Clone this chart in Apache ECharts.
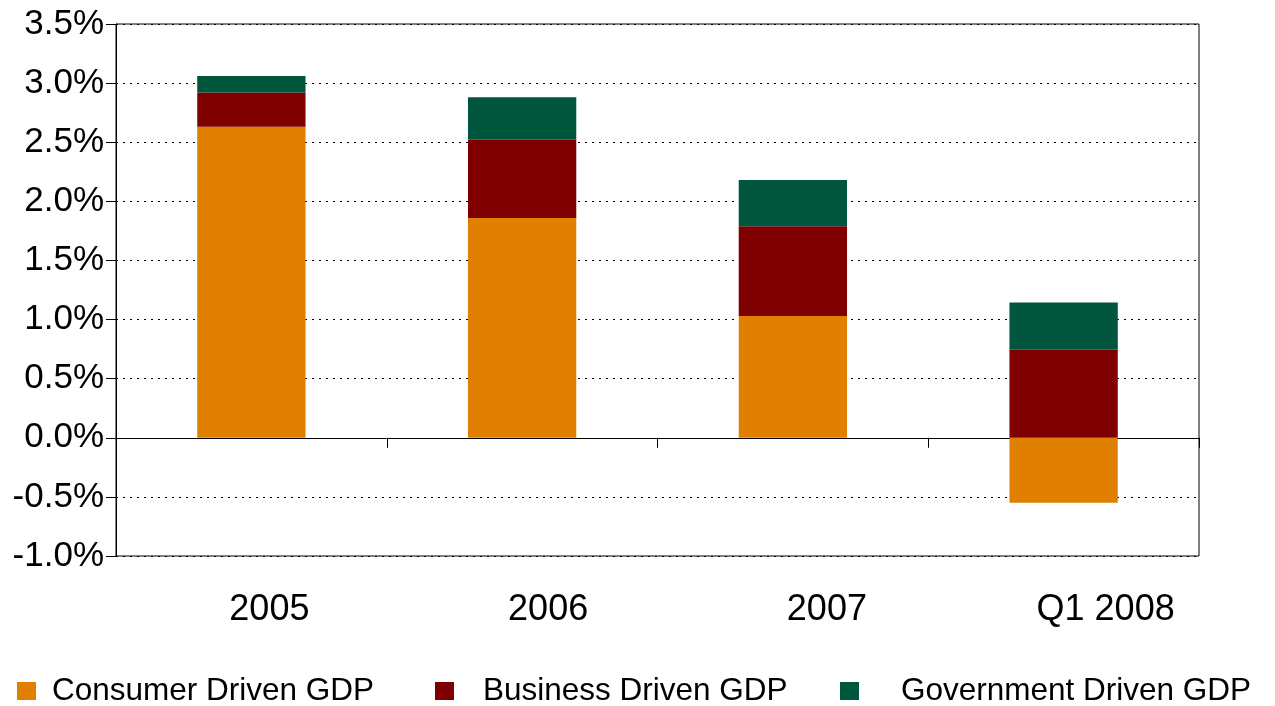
<!DOCTYPE html>
<html>
<head>
<meta charset="utf-8">
<script src="https://cdn.jsdelivr.net/npm/echarts@6/dist/echarts.min.js"></script>
<style>html,body{margin:0;padding:0;background:#fff}#c{width:1275px;height:706px}</style>
</head>
<body>
<div id="c"></div>
<script>
var categories = ['2005', '2006', '2007', 'Q1 2008'];
var consumer = [2.63, 1.86, 1.03, -0.55];
var business = [0.29, 0.66, 0.76, 0.745];
var government = [0.14, 0.36, 0.39, 0.40];
var seriesNames = ['Consumer Driven GDP', 'Business Driven GDP', 'Government Driven GDP'];
var colors = ['#E07F00', '#7F0000', '#00553D'];

var font = 'Liberation Sans, Arial, sans-serif';
var chart = echarts.init(document.getElementById('c'));
function mkLegend(i, left, pad) {
  return {
    data: [seriesNames[i]], left: left, top: 672, padding: 0,
    itemWidth: 19, itemHeight: 18, icon: 'rect', selectedMode: false,
    textStyle: { fontFamily: font, fontSize: 31.5, color: '#000', padding: [4, 0, 0, pad], lineHeight: 34 }
  };
}
chart.setOption({
  animation: false,
  color: colors,
  grid: [
    { left: 116, right: 76, top: 24, bottom: 150, show: true, borderColor: '#000', borderWidth: 1, backgroundColor: 'transparent' },
    { left: 130, right: 30, top: 24, bottom: 150, show: false }
  ],
  legend: [mkLegend(0, 17, 11), mkLegend(1, 435, 24), mkLegend(2, 840, 37)],
  xAxis: [
    {
      type: 'category', data: categories, gridIndex: 0,
      axisLine: { onZero: true, lineStyle: { color: '#000', width: 1 } },
      axisTick: { show: true, length: 10, lineStyle: { color: '#000' } },
      axisLabel: { show: false }
    },
    {
      type: 'category', data: categories, gridIndex: 1, position: 'bottom',
      axisLine: { show: false, onZero: false }, axisTick: { show: false },
      axisLabel: { fontFamily: font, fontSize: 36, color: '#000', margin: 36 }
    }
  ],
  yAxis: [
    {
      type: 'value', min: -1, max: 3.5, interval: 0.5, gridIndex: 0,
      axisLine: { show: true, lineStyle: { color: '#000' } },
      axisTick: { show: true, length: 10, lineStyle: { color: '#000' } },
      axisLabel: { fontFamily: font, fontSize: 35, color: '#000', margin: 12,
        formatter: function (v) { return v.toFixed(1) + '%'; } },
      splitLine: { show: true, lineStyle: { color: '#000', type: [2, 5], width: 1 } }
    },
    {
      type: 'value', min: -1, max: 3.5, interval: 0.5, gridIndex: 1, show: false
    }
  ],
  series: [
    { name: seriesNames[0], type: 'bar', stack: 'gdp', data: consumer, barWidth: '40%', itemStyle: { color: colors[0] } },
    { name: seriesNames[1], type: 'bar', stack: 'gdp', data: business, itemStyle: { color: colors[1] } },
    { name: seriesNames[2], type: 'bar', stack: 'gdp', data: government, itemStyle: { color: colors[2] } }
  ]
});
</script>
</body>
</html>
